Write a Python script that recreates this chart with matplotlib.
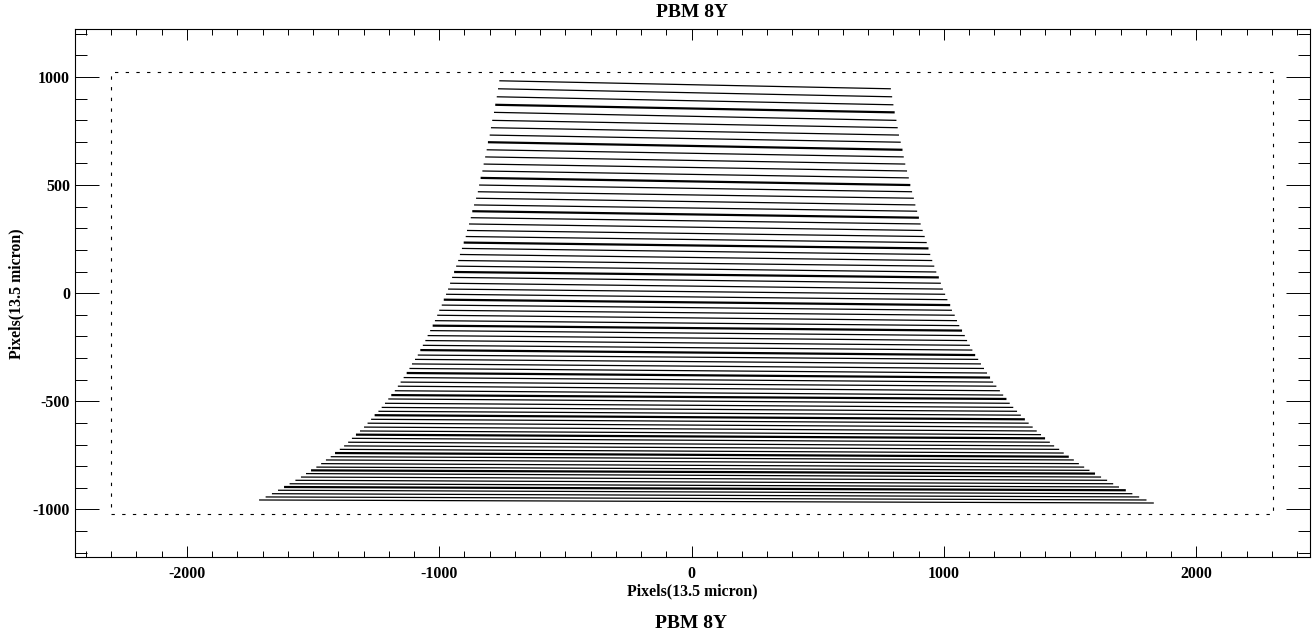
from matplotlib import pyplot as plt
from matplotlib.ticker import MultipleLocator

# end points of each order
left_x = [-762, -767, -772, -778, -783, -790, -795, -800, -807, -812,
          -818, -824, -829, -836, -842, -847, -854, -862, -869, -875,
          -882, -890, -895, -903, -910, -918, -925, -933, -941, -949,
          -957, -965, -973, -982, -990, -1000, -1008, -1017, -1026, -1036,
          -1046, -1055, -1065, -1075, -1085, -1096, -1108, -1118, -1129, -1141,
          -1153, -1164, -1176, -1190, -1202, -1215, -1228, -1241, -1256, -1270,
          -1284, -1298, -1314, -1330, -1346, -1361, -1377, -1394, -1413, -1430,
          -1449, -1468, -1487, -1508, -1528, -1548, -1570, -1593, -1615, -1639,
          -1663, -1688, -1714]
left_y = [982, 945, 908, 871, 836, 799, 765, 731, 698, 663,
          630, 597, 565, 533, 500, 469, 439, 408, 379, 349,
          320, 290, 262, 234, 207, 179, 151, 125, 98, 73,
          46, 19, -5, -30, -55, -79, -102, -127, -150, -173,
          -196, -219, -241, -263, -286, -306, -327, -348, -369, -390,
          -411, -430, -451, -471, -489, -509, -528, -546, -564, -583,
          -601, -619, -637, -654, -671, -689, -706, -722, -739, -756,
          -771, -788, -804, -819, -834, -850, -865, -881, -896, -911,
          -927, -942, -956]
right_x = [790, 795, 800, 805, 812, 817, 822, 829, 836, 841,
           847, 854, 861, 867, 874, 881, 887, 894, 901, 908,
           916, 924, 932, 939, 946, 954, 962, 970, 980, 988,
           996, 1005, 1014, 1025, 1032, 1043, 1052, 1061, 1072, 1083,
           1092, 1103, 1113, 1124, 1136, 1147, 1159, 1171, 1183, 1195,
           1208, 1222, 1235, 1248, 1261, 1275, 1290, 1305, 1321, 1336,
           1352, 1368, 1385, 1401, 1420, 1437, 1457, 1475, 1495, 1515,
           1535, 1556, 1577, 1599, 1623, 1647, 1671, 1694, 1721, 1747,
           1774, 1803, 1832]
right_y = [945, 908, 871, 836, 799, 765, 731, 698, 663, 630,
           597, 565, 533, 500, 469, 439, 408, 379, 349, 320,
           290, 262, 234, 207, 179, 151, 125, 98, 73, 46,
           19, -5, -30, -55, -79, -102, -127, -150, -173, -196,
           -219, -241, -263, -286, -306, -327, -348, -369, -390, -411,
           -430, -451, -471, -489, -509, -528, -546, -564, -583, -601,
           -619, -637, -654, -671, -689, -706, -722, -739, -756, -771,
           -788, -804, -819, -834, -850, -865, -881, -896, -911, -927,
           -942, -956, -970]

# detector outline
box_x = [-2302, 2305, 2305, -2302, -2302]
box_y = [-1022, -1022, 1023, 1023, -1022]

title = "PBM 8Y"
axis_label = "Pixels(13.5 micron)"


def main():
    plt.rcParams['font.family'] = ['Liberation Serif', 'DejaVu Serif']
    plt.rcParams['font.weight'] = 'bold'
    plt.rcParams['lines.scale_dashes'] = False
    plt.rcParams['axes.unicode_minus'] = False

    W, H = 1312, 633
    fig = plt.figure(figsize=(W / 100, H / 100), dpi=100)
    # axes box in pixels: 75..1310 across, 29..557 down
    ax = fig.add_axes([75 / W, 1 - 557.3 / H, (1310 - 75) / W, (557.3 - 29.3) / H])

    ax.plot(box_x, box_y, color='black', lw=0.8, linestyle=(0, (2.4, 5.3)))

    # every fifth order is drawn heavier
    for i in range(len(left_x)):
        lw = 1.6 if i % 5 == 3 else 0.9
        ax.plot([left_x[i], right_x[i]], [left_y[i], right_y[i]],
                color='black', lw=lw, solid_capstyle='butt')

    ax.set_xlim(-2443.5, 2451)
    ax.set_ylim(-1221, 1220)

    ax.xaxis.set_major_locator(MultipleLocator(1000))
    ax.xaxis.set_minor_locator(MultipleLocator(100))
    ax.yaxis.set_major_locator(MultipleLocator(500))
    ax.yaxis.set_minor_locator(MultipleLocator(100))
    ax.tick_params(axis='x', which='major', direction='in', top=True, length=7.9, width=0.7,
                   labelsize=11.4, pad=6)
    ax.tick_params(axis='x', which='minor', direction='in', top=True, length=4, width=0.7)
    ax.tick_params(axis='y', which='major', direction='in', right=True, length=17.3, width=0.7,
                   labelsize=11.4, pad=3.5)
    ax.tick_params(axis='y', which='minor', direction='in', right=True, length=8.6, width=0.7)
    for side in ax.spines.values():
        side.set_linewidth(0.8)

    ax.set_xlabel(axis_label, fontsize=11.4, fontweight='bold', labelpad=1.2)
    ax.set_ylabel(axis_label, fontsize=11.4, fontweight='bold')
    ax.yaxis.set_label_coords(-0.0413, 0.5)
    ax.set_title(title, fontsize=14, fontweight='bold', pad=9)
    fig.text(691 / W, 1 - 623.5 / H, title, fontsize=14, fontweight='bold', ha='center', va='center')

    plt.savefig("out.png", dpi=100)


if __name__ == "__main__":
    main()
